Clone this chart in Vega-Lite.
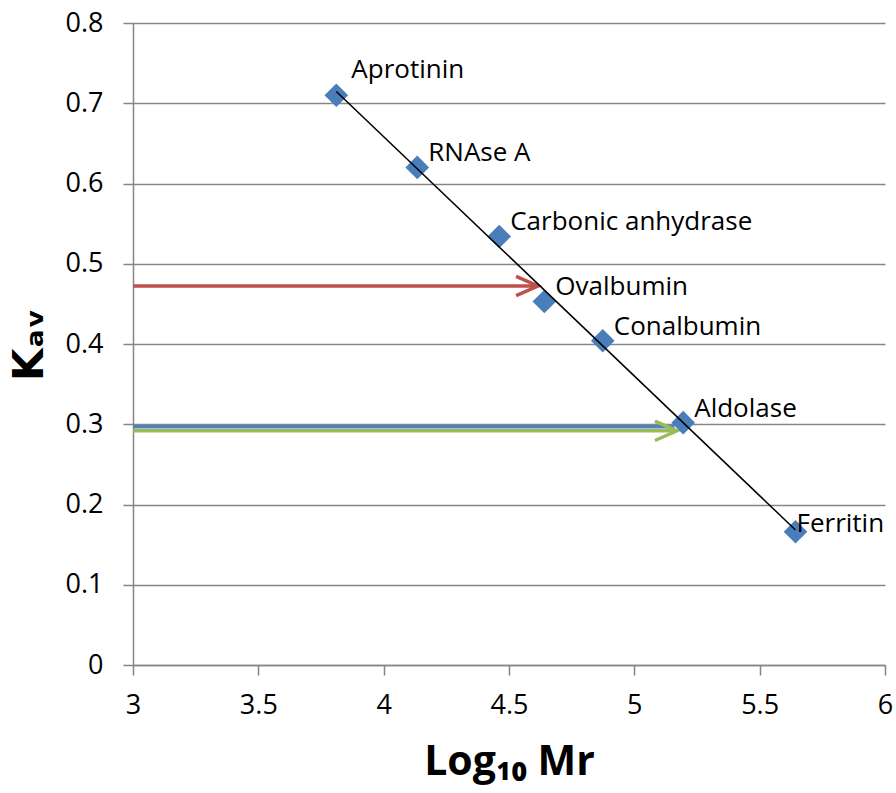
{
  "$schema": "https://vega.github.io/schema/vega-lite/v6.json",
  "width": 752,
  "height": 642,
  "autosize": {"type": "none"},
  "padding": {"left": 133, "top": 23, "right": 11, "bottom": 128},
  "background": "white",
  "config": {"view": {"stroke": null}, "font": "Open Sans"},
  "datasets": {
    "proteins": [
      {"name": "Aprotinin", "logMr": 3.811, "kav": 0.710},
      {"name": "RNAse A", "logMr": 4.134, "kav": 0.620},
      {"name": "Carbonic anhydrase", "logMr": 4.461, "kav": 0.534},
      {"name": "Ovalbumin", "logMr": 4.641, "kav": 0.453},
      {"name": "Conalbumin", "logMr": 4.874, "kav": 0.404},
      {"name": "Aldolase", "logMr": 5.195, "kav": 0.302},
      {"name": "Ferritin", "logMr": 5.643, "kav": 0.166}
    ],
    "arrows": [
      {"series": "Blue", "start": 3, "end": 5.16, "kav": 0.2968, "head": false},
      {"series": "Green", "start": 3, "end": 5.17, "kav": 0.2918, "head": true},
      {"series": "Red", "start": 3, "end": 4.616, "kav": 0.4723, "head": true}
    ]
  },
  "layer": [
    {
      "data": {"name": "arrows"},
      "mark": {"type": "rule", "strokeWidth": 3.5},
      "encoding": {
        "x": {
          "field": "start", "type": "quantitative",
          "scale": {"domain": [3, 6], "nice": false, "zero": false},
          "axis": {
            "title": "Log₁₀ Mr", "values": [3, 3.5, 4, 4.5, 5, 5.5, 6], "format": "~g",
            "grid": false, "domainColor": "#868686", "domainWidth": 1.5,
            "tickColor": "#868686", "tickWidth": 1.5, "tickSize": 10,
            "labelFont": "Open Sans", "labelFontSize": 27, "labelColor": "#000000",
            "labelPadding": 17, "labelFlush": false,
            "titleFont": "Open Sans", "titleFontSize": 41, "titleFontWeight": "bold", "titleColor": "#000000",
            "titlePadding": 24
          }
        },
        "x2": {"field": "end"},
        "y": {
          "field": "kav", "type": "quantitative",
          "scale": {"domain": [0, 0.8], "nice": false, "zero": true},
          "axis": {
            "title": "Kₐᵥ", "values": [0, 0.1, 0.2, 0.3, 0.4, 0.5, 0.6, 0.7, 0.8], "format": "~g",
            "grid": true, "gridColor": "#868686", "gridWidth": 1.5,
            "domainColor": "#868686", "domainWidth": 1.5,
            "tickColor": "#868686", "tickWidth": 1.5, "tickSize": 10,
            "labelFont": "Open Sans", "labelFontSize": 27, "labelColor": "#000000",
            "labelPadding": 20, "labelFlush": false,
            "titleFont": "DejaVu Sans", "titleFontSize": 42, "titleFontWeight": "bold", "titleColor": "#000000",
            "titlePadding": 14
          }
        },
        "color": {"field": "series", "type": "nominal", "legend": null,
          "scale": {"domain": ["Blue", "Green", "Red"], "range": ["#4F81BD", "#9BBB59", "#C0504D"]}}
      }
    },
    {
      "data": {"name": "arrows"},
      "transform": [{"filter": "datum.head"}],
      "mark": {"type": "point", "shape": "M -1 -0.44 L 0 0 L -1 0.44", "filled": false, "size": 1936, "strokeWidth": 3.5, "opacity": 1, "strokeJoin": "miter", "strokeCap": "butt"},
      "encoding": {
        "x": {"field": "end", "type": "quantitative", "title": "Log₁₀ Mr"},
        "y": {"field": "kav", "type": "quantitative", "title": "Kₐᵥ"},
        "color": {"field": "series", "type": "nominal", "legend": null}
      }
    },
    {
      "data": {"name": "proteins"},
      "mark": {"type": "point", "shape": "diamond", "filled": true, "size": 560, "opacity": 1, "color": "#4A7EBB"},
      "encoding": {
        "x": {"field": "logMr", "type": "quantitative", "title": "Log₁₀ Mr"},
        "y": {"field": "kav", "type": "quantitative", "title": "Kₐᵥ"}
      }
    },
    {
      "data": {"name": "proteins"},
      "transform": [{"regression": "kav", "on": "logMr", "method": "linear"}],
      "mark": {"type": "line", "color": "#000000", "strokeWidth": 1.5},
      "encoding": {
        "x": {"field": "logMr", "type": "quantitative", "title": "Log₁₀ Mr"},
        "y": {"field": "kav", "type": "quantitative", "title": "Kₐᵥ"}
      }
    },
    {
      "data": {"name": "proteins"},
      "transform": [{"filter": "datum.name != 'Aprotinin' && datum.name != 'Ferritin'"}],
      "mark": {"type": "text", "align": "left", "baseline": "middle", "dx": 11, "dy": -14, "font": "Open Sans", "fontSize": 26, "color": "#000000"},
      "encoding": {
        "x": {"field": "logMr", "type": "quantitative", "title": "Log₁₀ Mr"},
        "y": {"field": "kav", "type": "quantitative", "title": "Kₐᵥ"},
        "text": {"field": "name"}
      }
    },
    {
      "data": {"name": "proteins"},
      "transform": [{"filter": "datum.name == 'Aprotinin'"}],
      "mark": {"type": "text", "align": "left", "baseline": "middle", "dx": 15, "dy": -25, "font": "Open Sans", "fontSize": 26, "color": "#000000"},
      "encoding": {
        "x": {"field": "logMr", "type": "quantitative", "title": "Log₁₀ Mr"},
        "y": {"field": "kav", "type": "quantitative", "title": "Kₐᵥ"},
        "text": {"field": "name"}
      }
    },
    {
      "data": {"name": "proteins"},
      "transform": [{"filter": "datum.name == 'Ferritin'"}],
      "mark": {"type": "text", "align": "left", "baseline": "middle", "dx": 1, "dy": -8, "font": "Open Sans", "fontSize": 26, "color": "#000000"},
      "encoding": {
        "x": {"field": "logMr", "type": "quantitative", "title": "Log₁₀ Mr"},
        "y": {"field": "kav", "type": "quantitative", "title": "Kₐᵥ"},
        "text": {"field": "name"}
      }
    },
    {
      "mark": {"type": "text", "align": "center", "baseline": "middle", "font": "Open Sans", "fontSize": 24, "color": "#000000"},
      "encoding": {
        "x": {"datum": 5.585, "type": "quantitative", "title": "Log₁₀ Mr"},
        "y": {"datum": 0.745, "type": "quantitative", "title": "Kₐᵥ"},
        "text": {"value": "R² = 0.9983"}
      }
    }
  ]
}
